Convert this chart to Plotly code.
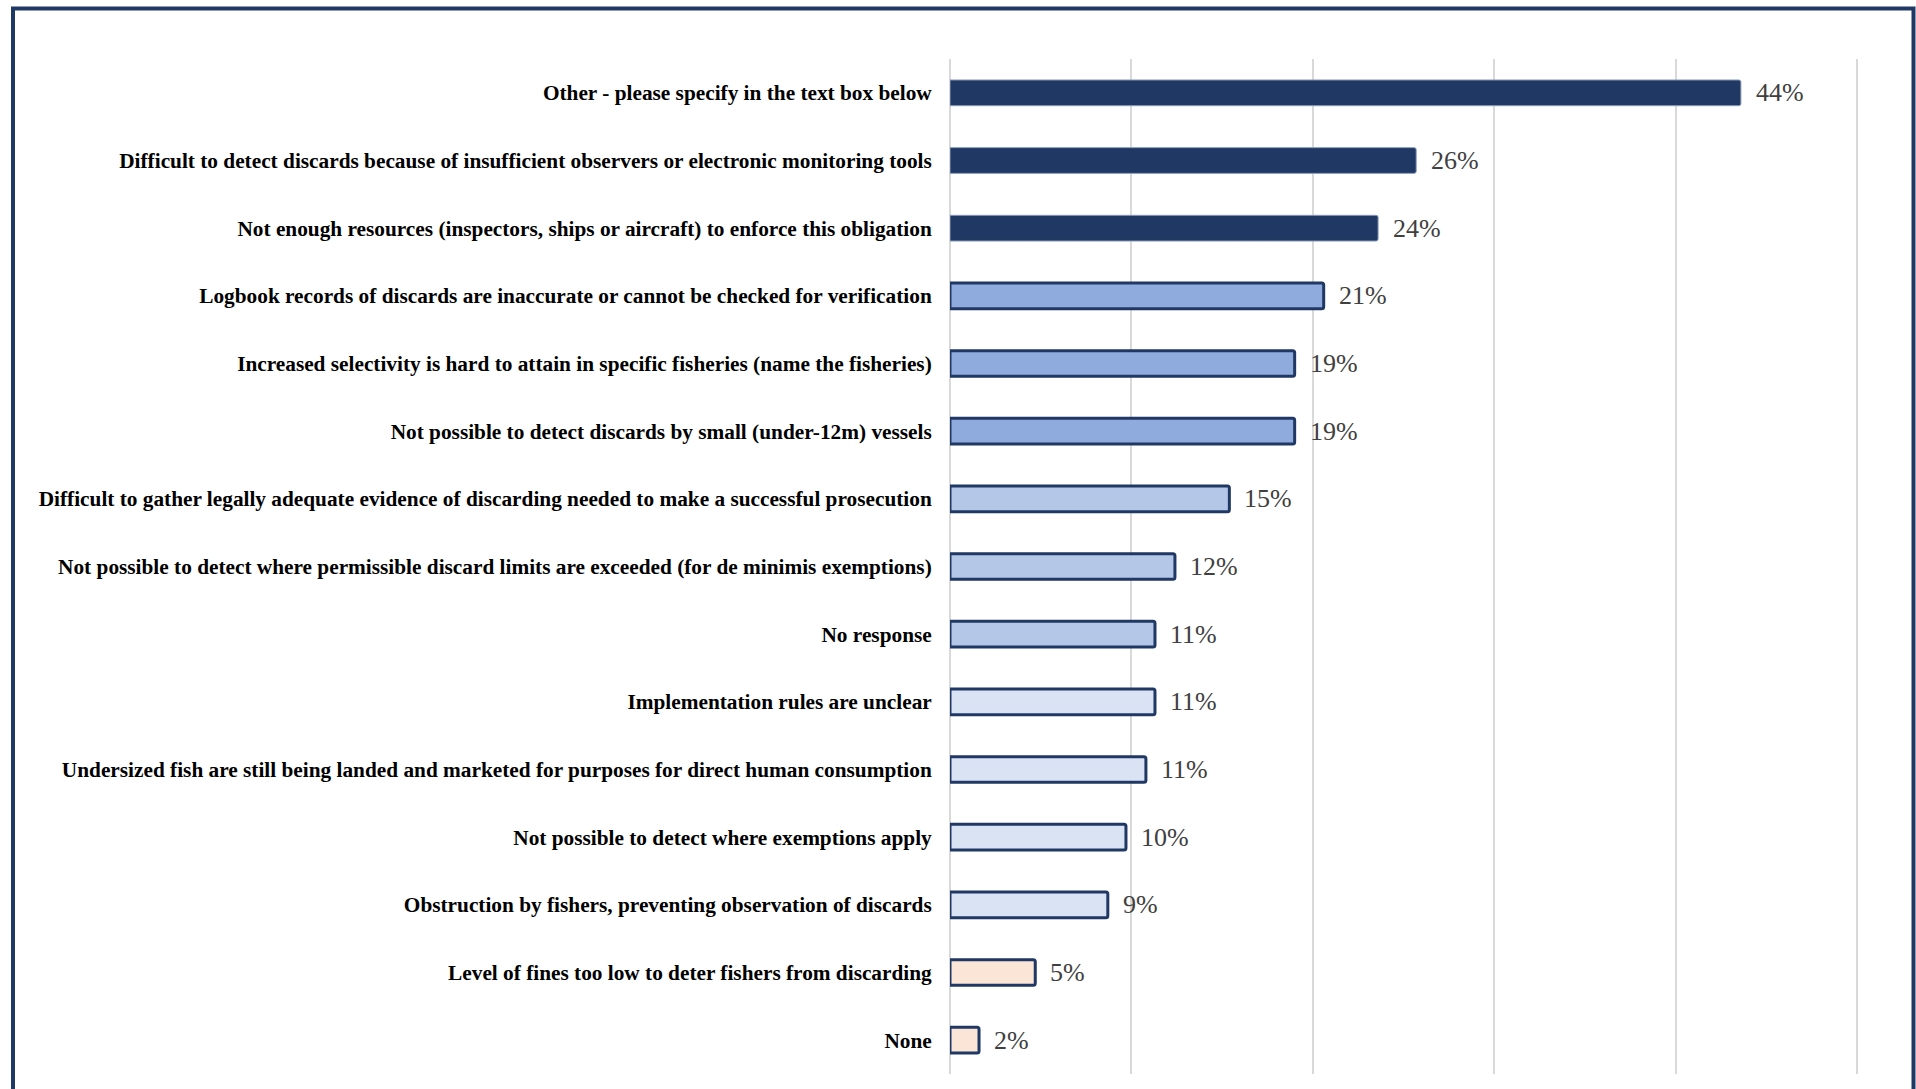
import plotly.graph_objects as go

categories = [
    "Other - please specify in the text box below",
    "Difficult to detect discards because of insufficient observers or electronic monitoring tools",
    "Not enough resources (inspectors, ships or aircraft) to enforce this obligation",
    "Logbook records of discards are inaccurate or cannot be checked for verification",
    "Increased selectivity is hard to attain in specific fisheries (name the fisheries)",
    "Not possible to detect discards by small (under-12m) vessels",
    "Difficult to gather legally adequate evidence of discarding needed to make a successful prosecution",
    "Not possible to detect where permissible discard limits are exceeded (for de minimis exemptions)",
    "No response",
    "Implementation rules are unclear",
    "Undersized fish are still being landed and marketed for purposes for direct human consumption",
    "Not possible to detect where exemptions apply",
    "Obstruction by fishers, preventing observation of discards",
    "Level of fines too low to deter fishers from discarding",
    "None",
]
values = [0.436, 0.257, 0.236, 0.206, 0.190, 0.190, 0.154, 0.124, 0.113, 0.113, 0.108, 0.097, 0.087, 0.047, 0.016]
fill_colors = ["#203864"] * 3 + ["#8FAADC"] * 3 + ["#B4C7E7"] * 3 + ["#DAE3F3"] * 4 + ["#FBE5D6"] * 2
line_colors = ["#8C9CB8"] * 3 + ["#203864"] * 12
line_widths = [1] * 3 + [3] * 12
tick_values = [0, 0.1, 0.2, 0.3, 0.4, 0.5]

SERIF = "Liberation Serif, Times New Roman, serif"
W, H = 1916, 1089
L, R, T, B = 950, 46, 59, 15
pw = W - L - R
ph = H - T - B
xmax = pw / 1814.0

fig = go.Figure()
fig.add_trace(go.Bar(
    y=categories,
    x=values,
    orientation="h",
    marker=dict(color=fill_colors, line=dict(color=line_colors, width=line_widths), cornerradius=2),
    hoverinfo="skip",
))

for c, v in zip(categories, values):
    fig.add_annotation(
        x=v, y=c, xref="x", yref="y",
        text=f"{round(v*100):.0f}%",
        showarrow=False, xanchor="left", yanchor="middle", xshift=13,
        font=dict(family=SERIF, size=26, color="#404040"),
    )

# outer frame
fig.add_shape(
    type="rect", xref="paper", yref="paper",
    x0=(13 - L) / pw, x1=(1913.5 - L) / pw,
    y0=(H - B - 1120) / ph, y1=(H - B - 8.5) / ph,
    line=dict(color="#203864", width=4), fillcolor="rgba(0,0,0,0)", layer="below",
)

fig.update_layout(
    width=W, height=H,
    margin=dict(l=L, r=R, t=T, b=B),
    paper_bgcolor="white", plot_bgcolor="white",
    bargap=0.62,
    showlegend=False,
    xaxis=dict(
        range=[0, xmax], tickvals=tick_values, showticklabels=False,
        showgrid=True, gridcolor="#D9D9D9", gridwidth=2,
        zeroline=True, zerolinecolor="#D9D9D9", zerolinewidth=2,
        showline=False, fixedrange=True,
    ),
    yaxis=dict(
        autorange="reversed",
        tickfont=dict(family=SERIF, size=21.3, color="#000000", weight="bold"),
        ticks="outside", ticklen=13, tickcolor="rgba(0,0,0,0)",
        showgrid=False, showline=False, fixedrange=True,
    ),
)

fig.write_html("out.html")
